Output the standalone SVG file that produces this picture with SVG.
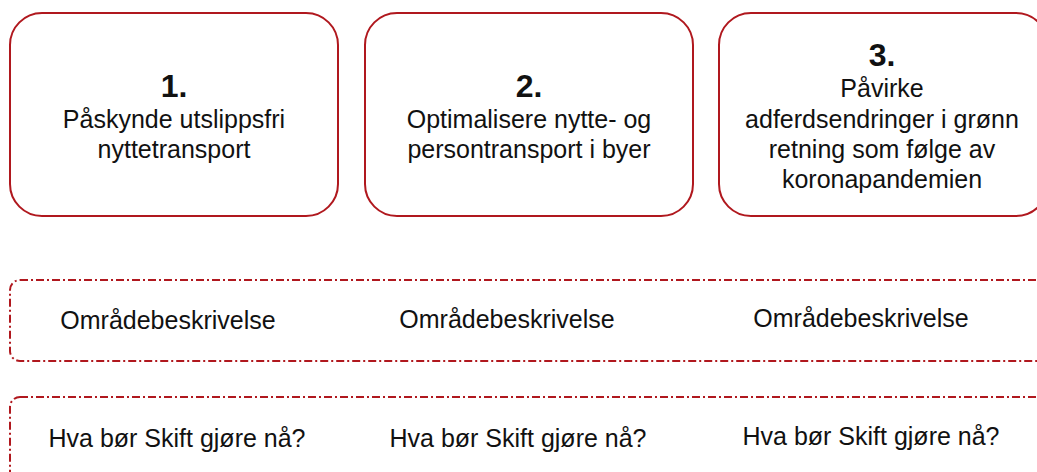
<svg xmlns="http://www.w3.org/2000/svg" width="1037" height="472" viewBox="0 0 1037 472">
<style>
.box{fill:#ffffff;stroke:#b0181e;stroke-width:2}
.row{fill:none;stroke:#b0181e;stroke-width:2;stroke-dasharray:8 3 2 3}
text{font-family:"Liberation Sans",Arial,sans-serif;fill:#111111;text-anchor:middle}
.num{font-size:32px;font-weight:bold}
.t{font-size:25px}
</style>
<rect width="1037" height="472" fill="#ffffff"/>
<g id="connectors"></g>
<g id="node1">
<rect class="box" x="10" y="13" width="328" height="203" rx="32" ry="32"/>
<text class="num" x="174" y="97">1.</text>
<text class="t" x="174" y="128">Påskynde utslippsfri</text>
<text class="t" x="174" y="158">nyttetransport</text>
</g>
<g id="node2">
<rect class="box" x="365" y="13" width="328" height="203" rx="32" ry="32"/>
<text class="num" x="529" y="97">2.</text>
<text class="t" x="529" y="128">Optimalisere nytte- og</text>
<text class="t" x="529" y="158">persontransport i byer</text>
</g>
<g id="node3">
<rect class="box" x="719" y="13" width="329" height="203" rx="32" ry="32"/>
<text class="num" x="882" y="66">3.</text>
<text class="t" x="882" y="97">Påvirke</text>
<text class="t" x="882" y="128">adferdsendringer i grønn</text>
<text class="t" x="882" y="158">retning som følge av</text>
<text class="t" x="882" y="188">koronapandemien</text>
</g>
<g id="row1">
<rect class="row" x="10" y="280" width="1040" height="81" rx="10" ry="10"/>
<text class="t" x="168" y="329">Områdebeskrivelse</text>
<text class="t" x="507" y="328">Områdebeskrivelse</text>
<text class="t" x="861" y="327">Områdebeskrivelse</text>
</g>
<g id="row2">
<rect class="row" x="10" y="397" width="1040" height="100" rx="10" ry="10"/>
<text class="t" x="177" y="447">Hva bør Skift gjøre nå?</text>
<text class="t" x="518" y="447">Hva bør Skift gjøre nå?</text>
<text class="t" x="871" y="445">Hva bør Skift gjøre nå?</text>
</g>
</svg>
